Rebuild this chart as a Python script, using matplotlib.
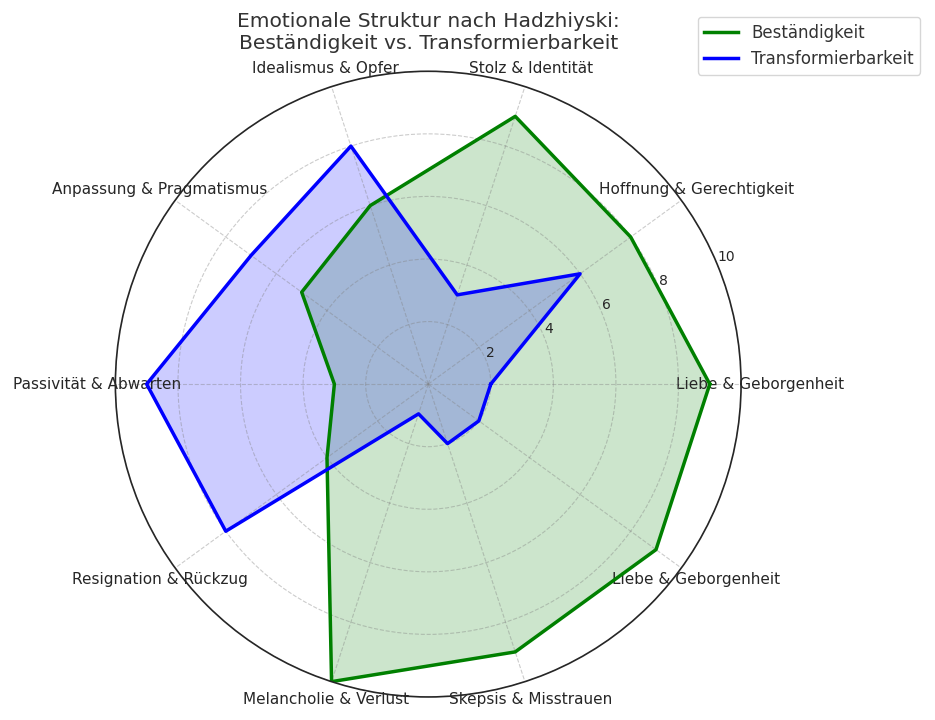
import numpy as np
import matplotlib
matplotlib.use("Agg")
import matplotlib.pyplot as plt

# categories, counter-clockwise from the right
categories = ["Liebe & Geborgenheit", "Hoffnung & Gerechtigkeit", "Stolz & Identität",
              "Idealismus & Opfer", "Anpassung & Pragmatismus", "Passivität & Abwarten",
              "Resignation & Rückzug", "Melancholie & Verlust", "Skepsis & Misstrauen",
              "Liebe & Geborgenheit"]
bestaendigkeit = [9, 8, 9, 6, 5, 3, 4, 10, 9, 9]
transformierbarkeit = [2, 6, 3, 8, 7, 9, 8, 1, 2, 2]
r_ticks = [2, 4, 6, 8, 10]

n = len(categories)
angles = np.linspace(0, 2 * np.pi, n, endpoint=False).tolist()
angles += angles[:1]
b_vals = bestaendigkeit + bestaendigkeit[:1]
t_vals = transformierbarkeit + transformierbarkeit[:1]

fig = plt.figure(figsize=(9.35, 7.2), dpi=100)
ax = fig.add_axes([0.123, 0.032, 0.670, 0.869], polar=True)

ax.plot(angles, b_vals, color='green', linewidth=2.5, label='Beständigkeit')
ax.fill(angles, b_vals, color='green', alpha=0.2)
ax.plot(angles, t_vals, color='blue', linewidth=2.5, label='Transformierbarkeit')
ax.fill(angles, t_vals, color='blue', alpha=0.2)

ax.set_ylim(0, 10)
ax.set_yticks(r_ticks)
ax.set_yticklabels([str(v) for v in r_ticks], fontsize=10, color='#262626')
ax.set_xticks(angles[:-1])
ax.set_xticklabels(categories, fontsize=11, color='#262626')
ax.tick_params(axis='x', pad=3)
ax.grid(color='gray', linestyle='--', linewidth=0.8, alpha=0.4)
ax.spines['polar'].set_color('#262626')
ax.spines['polar'].set_linewidth(1.2)

ax.set_title("Emotionale Struktur nach Hadzhiyski:\nBeständigkeit vs. Transformierbarkeit",
             fontsize=14.6, color='#333333', pad=16)
leg = ax.legend(loc='upper right', bbox_to_anchor=(1.3, 1.1), fontsize=12)
for t in leg.get_texts():
    t.set_color('#333333')

plt.savefig("out.png", dpi=100)
